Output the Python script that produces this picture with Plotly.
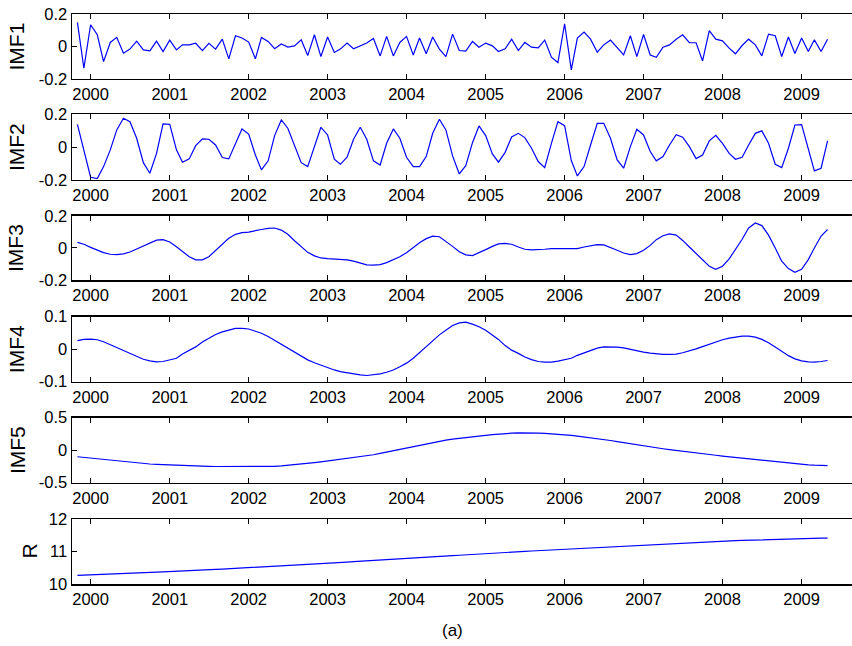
import plotly.graph_objects as go
import pandas as pd

# ---- data (monthly, Nov 1999 .. May 2009) ----
months = pd.date_range("1999-11-01", periods=115, freq="MS")

imf1 = [0.148, -0.134,
        0.134, 0.072, -0.093, 0.025, 0.056, -0.041, -0.016, 0.033, -0.021, -0.027, 0.033, -0.031,
        0.039, -0.021, 0.010, 0.010, 0.020, -0.025, 0.020, -0.016, 0.045, -0.076, 0.066, 0.052,
        0.027, -0.076, 0.056, 0.031, -0.014, 0.016, -0.004, 0.004, 0.041, -0.056, 0.072, -0.062,
        0.058, -0.037, -0.016, 0.021, -0.014, 0.004, 0.021, 0.049, -0.058, 0.062, -0.058, 0.025,
        0.062, -0.052, 0.052, -0.045, 0.058, -0.016, -0.062, 0.076, -0.025, -0.029, 0.031, -0.004,
        0.021, 0.004, -0.031, -0.014, 0.045, -0.025, 0.025, -0.004, -0.008, 0.039, -0.066, -0.099,
        0.140, -0.144, 0.052, 0.089, 0.045, -0.035, 0.010, 0.039, -0.006, -0.052, 0.066, -0.062,
        0.074, -0.052, -0.066, -0.004, 0.010, 0.045, 0.072, 0.023, 0.023, -0.089, 0.097, 0.045,
        0.035, -0.010, -0.045, 0.006, 0.045, 0.010, -0.058, 0.076, 0.066, -0.062, 0.058, -0.043,
        0.052, -0.031, 0.041, -0.031, 0.045]

imf2 = [0.139, -0.017,
        -0.184, -0.192, -0.119, -0.017, 0.105, 0.176, 0.155, 0.054, -0.095, -0.160, -0.038, 0.141,
        0.139, -0.017, -0.092, -0.072, 0.009, 0.050, 0.048, 0.013, -0.064, -0.072, 0.023, 0.111,
        0.080, -0.048, -0.139, -0.084, 0.070, 0.166, 0.115, 0.013, -0.095, -0.119, 0.003, 0.121,
        0.074, -0.074, -0.105, -0.062, 0.048, 0.121, 0.048, -0.084, -0.109, 0.023, 0.111, 0.054,
        -0.062, -0.119, -0.119, -0.058, 0.084, 0.170, 0.105, -0.054, -0.164, -0.113, 0.027, 0.129,
        0.070, -0.042, -0.092, -0.032, 0.062, 0.084, 0.058, -0.007, -0.088, -0.125, 0.023, 0.155,
        0.131, -0.082, -0.176, -0.119, 0.013, 0.145, 0.145, 0.054, -0.078, -0.129, 0.003, 0.109,
        0.074, -0.027, -0.084, -0.058, 0.013, 0.076, 0.060, 0.003, -0.070, -0.048, 0.038, 0.072,
        0.023, -0.038, -0.074, -0.062, 0.013, 0.084, 0.099, 0.023, -0.105, -0.125, -0.007, 0.135,
        0.137, -0.003, -0.145, -0.129, 0.038]

imf3 = [0.035, 0.023,
        0.004, -0.012, -0.029, -0.039, -0.041, -0.037, -0.025, -0.006, 0.012, 0.033, 0.049, 0.052,
        0.037, 0.008, -0.023, -0.054, -0.074, -0.074, -0.054, -0.016, 0.023, 0.060, 0.085, 0.095,
        0.099, 0.105, 0.115, 0.122, 0.124, 0.111, 0.085, 0.045, 0.008, -0.027, -0.049, -0.062,
        -0.066, -0.068, -0.070, -0.074, -0.082, -0.095, -0.105, -0.107, -0.103, -0.091, -0.074, -0.054,
        -0.029, 0.002, 0.033, 0.058, 0.074, 0.070, 0.043, 0.010, -0.023, -0.043, -0.047, -0.031,
        -0.010, 0.010, 0.025, 0.029, 0.023, 0.006, -0.008, -0.012, -0.012, -0.008, -0.004, -0.004,
        -0.006, -0.006, -0.004, 0.006, 0.014, 0.021, 0.019, 0.004, -0.014, -0.031, -0.041, -0.035,
        -0.014, 0.016, 0.052, 0.076, 0.087, 0.080, 0.047, 0.006, -0.035, -0.076, -0.113, -0.132,
        -0.113, -0.068, -0.010, 0.054, 0.124, 0.155, 0.139, 0.080, 0.000, -0.082, -0.128, -0.151,
        -0.132, -0.072, 0.000, 0.074, 0.115]

imf4 = [0.026, 0.030,
        0.031, 0.029, 0.023, 0.014, 0.005, -0.003, -0.012, -0.023, -0.031, -0.036, -0.039, -0.038,
        -0.034, -0.028, -0.015, -0.004, 0.007, 0.022, 0.034, 0.045, 0.053, 0.059, 0.064, 0.064,
        0.062, 0.055, 0.049, 0.039, 0.027, 0.014, 0.002, -0.009, -0.021, -0.033, -0.042, -0.050,
        -0.057, -0.064, -0.069, -0.073, -0.077, -0.079, -0.081, -0.079, -0.076, -0.071, -0.064, -0.054,
        -0.043, -0.028, -0.010, 0.008, 0.027, 0.044, 0.058, 0.073, 0.081, 0.083, 0.077, 0.069,
        0.058, 0.044, 0.030, 0.011, -0.003, -0.013, -0.024, -0.032, -0.038, -0.040, -0.040, -0.037,
        -0.033, -0.028, -0.019, -0.011, -0.003, 0.003, 0.007, 0.007, 0.006, 0.004, -0.001, -0.005,
        -0.009, -0.012, -0.015, -0.016, -0.016, -0.015, -0.011, -0.006, 0.001, 0.008, 0.015, 0.023,
        0.029, 0.034, 0.038, 0.040, 0.040, 0.037, 0.030, 0.020, 0.007, -0.006, -0.020, -0.030,
        -0.036, -0.039, -0.040, -0.038, -0.035]

imf5 = [-0.103, -0.113,
        -0.123, -0.135, -0.147, -0.160, -0.172, -0.184, -0.195, -0.202, -0.209, -0.215, -0.221, -0.226,
        -0.231, -0.236, -0.240, -0.244, -0.247, -0.249, -0.251, -0.253, -0.254, -0.255, -0.256, -0.256,
        -0.256, -0.256, -0.255, -0.253, -0.250, -0.244, -0.236, -0.228, -0.218, -0.206, -0.194, -0.182,
        -0.169, -0.157, -0.144, -0.131, -0.118, -0.105, -0.092, -0.072, -0.050, -0.029, -0.008, 0.014,
        0.036, 0.055, 0.074, 0.094, 0.114, 0.134, 0.154, 0.168, 0.182, 0.196, 0.208, 0.218,
        0.226, 0.236, 0.246, 0.256, 0.260, 0.264, 0.267, 0.266, 0.262, 0.256, 0.250, 0.243,
        0.236, 0.225, 0.213, 0.201, 0.189, 0.177, 0.164, 0.147, 0.130, 0.113, 0.096, 0.079,
        0.062, 0.048, 0.034, 0.020, 0.006, -0.008, -0.021, -0.033, -0.045, -0.057, -0.069, -0.080,
        -0.092, -0.103, -0.114, -0.125, -0.136, -0.148, -0.159, -0.170, -0.180, -0.190, -0.200, -0.211,
        -0.221, -0.227, -0.233, -0.237, -0.241]

resid = [10.265, 10.275,
         10.285, 10.293, 10.300, 10.308, 10.316, 10.324, 10.332, 10.340, 10.348, 10.356, 10.364, 10.371,
         10.378, 10.388, 10.398, 10.408, 10.418, 10.428, 10.438, 10.449, 10.459, 10.469, 10.479, 10.490,
         10.500, 10.512, 10.524, 10.536, 10.548, 10.560, 10.572, 10.584, 10.596, 10.608, 10.620, 10.632,
         10.643, 10.654, 10.665, 10.676, 10.687, 10.698, 10.709, 10.720, 10.731, 10.742, 10.754, 10.765,
         10.776, 10.790, 10.803, 10.817, 10.830, 10.844, 10.858, 10.872, 10.885, 10.899, 10.913, 10.926,
         10.940, 10.951, 10.962, 10.972, 10.983, 10.994, 11.005, 11.016, 11.027, 11.038, 11.049, 11.060,
         11.070, 11.081, 11.092, 11.103, 11.114, 11.124, 11.135, 11.146, 11.157, 11.168, 11.178, 11.189,
         11.200, 11.210, 11.219, 11.229, 11.239, 11.249, 11.258, 11.268, 11.278, 11.288, 11.297, 11.307,
         11.316, 11.324, 11.332, 11.340, 11.347, 11.355, 11.362, 11.370, 11.378, 11.386, 11.394, 11.402,
         11.410, 11.412, 11.413, 11.414, 11.414]

panel_names = ["IMF1", "IMF2", "IMF3", "IMF4", "IMF5", "R"]
panel_values = [imf1, imf2, imf3, imf4, imf5, resid]
y_ranges = [[-0.2, 0.2], [-0.2, 0.2], [-0.2, 0.2], [-0.1, 0.1], [-0.5, 0.5], [10, 12]]
y_tickvals = [[-0.2, 0, 0.2], [-0.2, 0, 0.2], [-0.2, 0, 0.2], [-0.1, 0, 0.1], [-0.5, 0, 0.5], [10, 11, 12]]
y_ticktext = [["-0.2", "0", "0.2"], ["-0.2", "0", "0.2"], ["-0.2", "0", "0.2"],
              ["-0.1", "0", "0.1"], ["-0.5", "0", "0.5"], ["10", "11", "12"]]
year_ticks = ["2000-01-01", "2001-01-01", "2002-01-01", "2003-01-01", "2004-01-01",
              "2005-01-01", "2006-01-01", "2007-01-01", "2008-01-01", "2009-01-01"]
year_labels = ["2000", "2001", "2002", "2003", "2004", "2005", "2006", "2007", "2008", "2009"]
caption = "(a)"

# ---- layout ----
W, H = 852, 646
ML, MR, MT, MB = 72, 0, 14, 62
domains = [[0.886, 1.0], [0.709, 0.824], [0.533, 0.646], [0.355, 0.469], [0.178, 0.292], [0.0, 0.114]]
title_x_px = [16, 16, 16, 16, 17, 30]
x_range = ["1999-10-07", "2009-08-22"]
FONT = "Liberation Sans, Arial, sans-serif"

fig = go.Figure()
layout = dict(
    width=W, height=H,
    margin=dict(l=ML, r=MR, t=MT, b=MB, autoexpand=False),
    paper_bgcolor="white", plot_bgcolor="white",
    showlegend=False,
    font=dict(family=FONT, size=16.5, color="black"),
)
annotations = []
for i, (name, vals) in enumerate(zip(panel_names, panel_values)):
    k = "" if i == 0 else str(i + 1)
    fig.add_trace(go.Scatter(x=months, y=vals, mode="lines",
                             line=dict(color="#0000FF", width=1.2),
                             xaxis="x" + k, yaxis="y" + k, hoverinfo="skip"))
    layout["xaxis" + k] = dict(
        domain=[0, 1], anchor="y" + k, type="date", range=x_range,
        tickvals=year_ticks, ticktext=year_labels,
        ticks="inside", ticklen=5, tickwidth=1, tickcolor="black",
        showline=True, linecolor="black", linewidth=1.5, mirror="ticks",
        showgrid=False, zeroline=False, automargin=False,
        tickfont=dict(family=FONT, size=16.5, color="black"),
    )
    layout["yaxis" + k] = dict(
        domain=domains[i], anchor="x" + k, range=y_ranges[i],
        tickvals=y_tickvals[i], ticktext=y_ticktext[i],
        ticks="inside", ticklen=5, tickwidth=1, tickcolor="black",
        showline=True, linecolor="black", linewidth=1.5, mirror=False,
        showgrid=False, zeroline=False, automargin=False,
        tickfont=dict(family=FONT, size=16.5, color="black"),
    )
    annotations.append(dict(
        text=name, xref="paper", yref="paper",
        x=(title_x_px[i] - ML) / (W - ML - MR), y=sum(domains[i]) / 2,
        xanchor="center", yanchor="middle", textangle=-90, showarrow=False,
        font=dict(family=FONT, size=21, color="black"),
    ))
annotations.append(dict(
    text=caption, xref="paper", yref="paper",
    x=(452 - ML) / (W - ML - MR), y=(H - MB - 630) / (H - MT - MB),
    xanchor="center", yanchor="middle", showarrow=False,
    font=dict(family=FONT, size=17, color="black"),
))
layout["annotations"] = annotations
fig.update_layout(**layout)
fig.write_html(
    "out.html",
    config={"displayModeBar": False, "staticPlot": True},
    post_script="document.body.style.margin='0';document.body.style.overflow='hidden';",
)
